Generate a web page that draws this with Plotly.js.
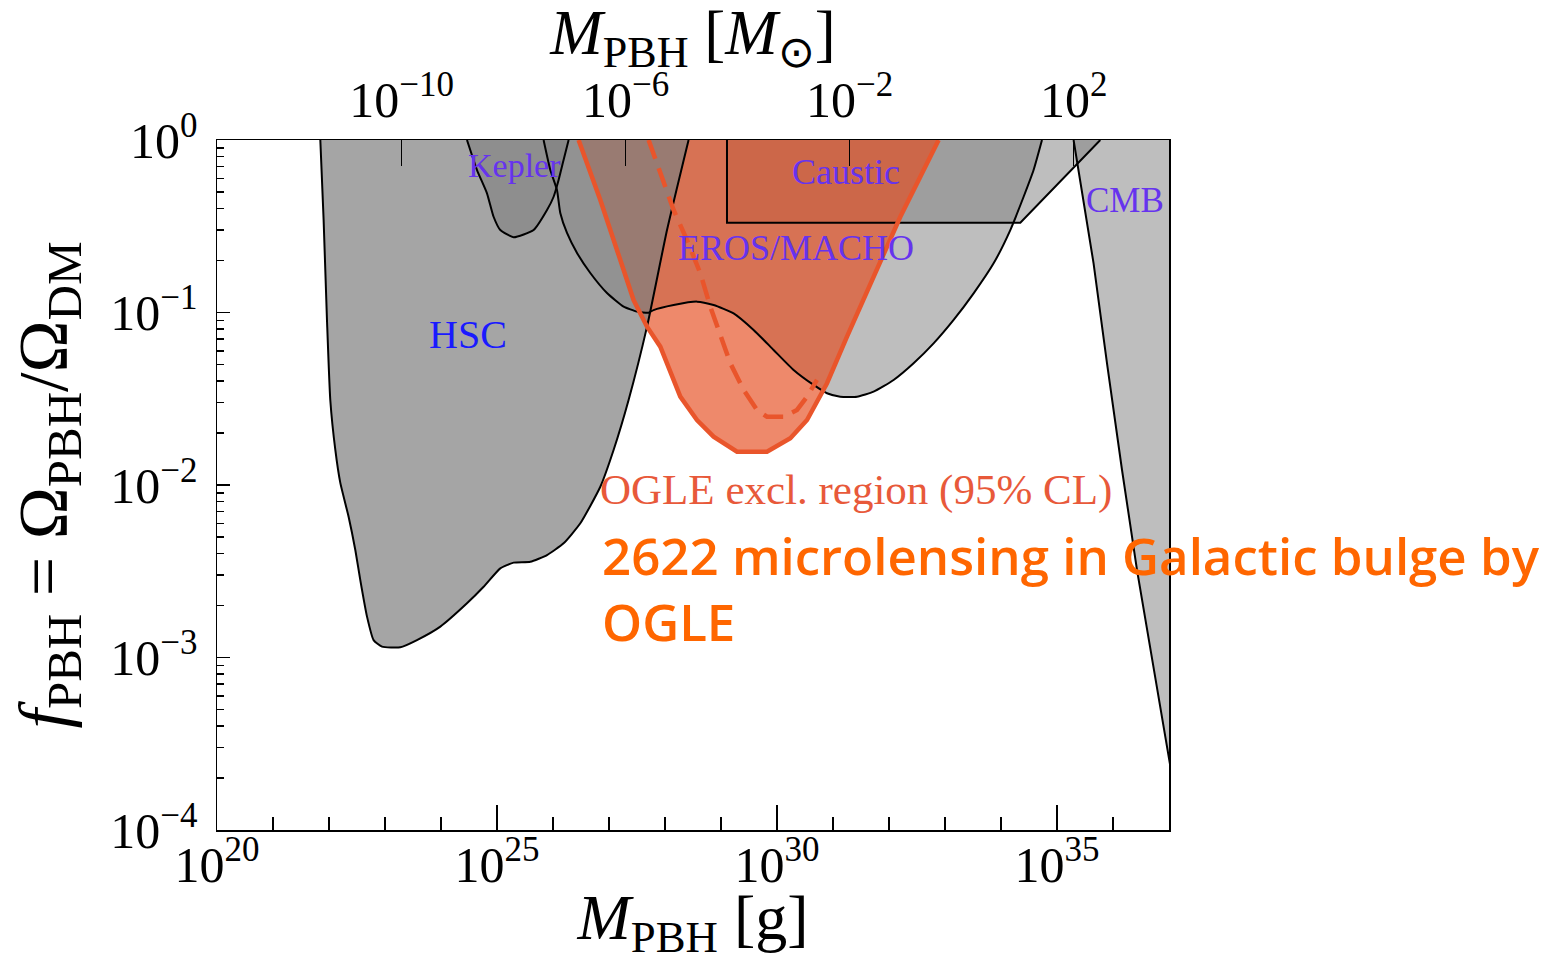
<!DOCTYPE html>
<html>
<head>
<meta charset="utf-8">
<script src="https://cdn.plot.ly/plotly-3.0.1.min.js"></script>
<style>html,body{margin:0;padding:0;background:#fff;}#chart{width:1557px;height:962px;}</style>
</head>
<body>
<div id="chart"></div>
<script>
// ---- Data (log10 of mass in g, log10 of f_PBH) ----
const hscLogM = [21.845,21.904,21.964,22.023,22.113,22.202,22.35,22.47,22.559,22.679,22.796,22.946,23.273,23.571,23.988,24.464,24.761,25.059,25.296,25.595,25.893,26.189,26.488,26.845,27.082,27.35,27.679,28.036,28.421];
const hscLogF = [0,-0.464,-1.043,-1.507,-1.797,-1.988,-2.184,-2.377,-2.551,-2.763,-2.899,-2.937,-2.941,-2.899,-2.821,-2.686,-2.59,-2.483,-2.45,-2.445,-2.406,-2.338,-2.222,-2.01,-1.797,-1.507,-1.082,-0.522,0];

const keplerLogM = [24.464,24.643,24.821,24.939,25.059,25.296,25.654,25.893,26.011,26.1,26.189,26.279];
const keplerLogF = [0,-0.174,-0.309,-0.445,-0.522,-0.564,-0.522,-0.406,-0.329,-0.232,-0.116,0];

const erosLogM = [25.832,25.952,26.071,26.13,26.25,26.429,26.666,26.964,27.261,27.5,27.707,27.796,28.154,28.571,28.868,29.225,29.582,29.939,30.296,30.654,30.893,31.13,31.429,31.725,32.082,32.439,32.796,33.154,33.511,33.868,34.166,34.404,34.582,34.732];
const erosLogF = [0,-0.174,-0.29,-0.423,-0.539,-0.655,-0.771,-0.887,-0.966,-0.995,-1.001,-0.986,-0.957,-0.937,-0.957,-1.005,-1.101,-1.217,-1.333,-1.42,-1.468,-1.488,-1.488,-1.459,-1.391,-1.294,-1.179,-1.043,-0.889,-0.715,-0.522,-0.329,-0.174,0];

const causticLogM = [29.107,29.107,34.345,35.773];
const causticLogF = [0,-0.479,-0.479,0];

const cmbLogM = [35.296,35.653,35.893,36.161,36.429,36.725,37.02,37.02];
const cmbLogF = [0,-0.715,-1.295,-1.913,-2.493,-3.072,-3.623,0];

const ogleLogM = [26.457,26.845,27.202,27.439,27.679,27.916,28.273,28.571,28.868,29.286,29.821,30.238,30.536,30.893,31.25,31.725,32.202,32.559,32.886];
const ogleLogF = [0,-0.348,-0.696,-0.928,-1.082,-1.198,-1.488,-1.623,-1.72,-1.807,-1.807,-1.729,-1.623,-1.41,-1.14,-0.792,-0.445,-0.213,0];

const ogleDashLogM = [27.707,27.916,28.154,28.393,28.631,28.809,28.988,29.166,29.404,29.643,29.821,30.118,30.357,30.536,30.714];
const ogleDashLogF = [0,-0.193,-0.406,-0.58,-0.773,-0.966,-1.14,-1.294,-1.449,-1.565,-1.604,-1.604,-1.565,-1.488,-1.391];

// ---- Axis ticks ----
const xTickExp = [20,25,30,35];
const xMinorExp = [21,22,23,24,26,27,28,29,31,32,33,34,36];
const topTickExp = [-10,-6,-2,2];
const yTickExp = [0,-1,-2,-3,-4];
const yMinorMant = [2,3,4,5,6,7,8,9];
const yMinorDecades = [-4,-3,-2,-1];
const MSUN_G = 1.989e33;

const p10 = a => a.map(v => Math.pow(10, v));
const sup = e => '10<sup>' + String(e).replace('-', '\u2212') + '</sup>';

const GRAY = '127,127,127';
const fillTrace = (mx, fy, color, smooth) => ({x:p10(mx), y:p10(fy), fill:'toself', fillcolor:color, mode:'lines',
  line:{width:0, color:'rgba(0,0,0,0)', shape: smooth ? 'spline' : 'linear', smoothing:0.5}});
const edgeTrace = (mx, fy, smooth) => ({x:p10(mx), y:p10(fy), mode:'lines',
  line:{color:'black', width:2, shape: smooth ? 'spline' : 'linear', smoothing:0.5}});

const traces = [
  fillTrace(erosLogM, erosLogF, 'rgba('+GRAY+',0.51)', true),
  fillTrace(causticLogM, causticLogF, 'rgba('+GRAY+',0.51)', false),
  fillTrace(ogleLogM, ogleLogF, 'rgba(229,74,27,0.65)', false),
  fillTrace(hscLogM, hscLogF, 'rgba('+GRAY+',0.70)', true),
  fillTrace(keplerLogM, keplerLogF, 'rgba('+GRAY+',0.60)', true),
  fillTrace(cmbLogM, cmbLogF, 'rgba('+GRAY+',0.51)', false),
  edgeTrace(erosLogM, erosLogF, true),
  edgeTrace(causticLogM, causticLogF, false),
  edgeTrace(hscLogM, hscLogF, true),
  edgeTrace(keplerLogM, keplerLogF, true),
  edgeTrace(cmbLogM, cmbLogF, false),
  {x:p10(ogleLogM), y:p10(ogleLogF), mode:'lines', line:{color:'#e9552b', width:4.5}},
  {x:p10(ogleDashLogM), y:p10(ogleDashLogF), mode:'lines', line:{color:'#e9552b', width:4.5, dash:'20px,10px'}},
  // invisible anchors for the decorative overlay axes
  {x:[1e25], y:[1e-2], xaxis:'x2', mode:'markers', marker:{opacity:0}},
  {x:[1e25], y:[1e-2], xaxis:'x3', mode:'markers', marker:{opacity:0}},
  {x:[1e25], y:[1e-2], yaxis:'y2', mode:'markers', marker:{opacity:0}}
];
traces.forEach(t => { t.showlegend = false; t.hoverinfo = 'skip'; });

const yMinorVals = [];
yMinorDecades.forEach(d => yMinorMant.forEach(m => yMinorVals.push(m * Math.pow(10, d))));

const SERIF = 'Liberation Serif, Times New Roman, serif';
const layout = {
  width:1557, height:962,
  margin:{l:217, r:388, t:140, b:132},
  paper_bgcolor:'white', plot_bgcolor:'white',
  showlegend:false,
  font:{family:SERIF, color:'black'},
  title:{text:'<i>M</i><sub>PBH</sub> [<i>M</i><sub>\u2299</sub>]', font:{size:63, family:SERIF, color:'black'},
    xref:'container', yref:'container', x:693/1557, xanchor:'center', y:0.99, yanchor:'top'},
  xaxis:{type:'log', range:[20,37], tickvals:p10(xTickExp), ticktext:xTickExp.map(sup),
    ticks:'inside', ticklen:25, tickwidth:1.5, tickcolor:'black',
    showline:true, linecolor:'black', linewidth:1.5, mirror:true,
    showgrid:false, zeroline:false, tickfont:{size:50, family:SERIF},
    ticklabelstandoff:-10,
    title:{text:'<i>M</i><sub>PBH</sub> [g]', font:{size:64, family:SERIF}, standoff:6}},
  xaxis2:{type:'log', overlaying:'x', side:'top', anchor:'y',
    range:[20 - Math.log10(MSUN_G), 37 - Math.log10(MSUN_G)],
    tickvals:p10(topTickExp), ticktext:topTickExp.map(sup),
    ticks:'inside', ticklen:26, tickwidth:1.5, tickcolor:'black',
    showline:false, showgrid:false, zeroline:false, tickfont:{size:50, family:SERIF},
    ticklabelstandoff:12},
  xaxis3:{type:'log', overlaying:'x', side:'bottom', anchor:'y', range:[20,37],
    tickvals:p10(xMinorExp), ticks:'inside', ticklen:13, tickwidth:1.5, tickcolor:'black',
    showticklabels:false, showline:false, showgrid:false, zeroline:false},
  yaxis:{type:'log', range:[-4,0], tickvals:p10(yTickExp), ticktext:yTickExp.map(sup),
    ticks:'inside', ticklen:13, tickwidth:1.5, tickcolor:'black',
    showline:true, linecolor:'black', linewidth:1.5, mirror:true,
    showgrid:false, zeroline:false, tickfont:{size:50, family:SERIF},
    ticklabelstandoff:8,
    title:{text:'<i>f</i><sub>PBH</sub> = \u03A9<sub>PBH</sub>/\u03A9<sub>DM</sub>', font:{size:70, family:SERIF}, standoff:20}},
  yaxis2:{type:'log', overlaying:'y', side:'left', anchor:'x', range:[-4,0],
    tickvals:yMinorVals, ticks:'inside', ticklen:7, tickwidth:1.5, tickcolor:'black',
    showticklabels:false, showline:false, showgrid:false, zeroline:false},
  annotations:[
    {x:25.309, y:-0.145, text:'Kepler', font:{size:34, color:'#6633ee', family:SERIF}},
    {x:24.488, y:-1.13, text:'HSC', font:{size:40, color:'#1a1aff', family:SERIF}},
    {x:31.24, y:-0.186, text:'Caustic', font:{size:36, color:'#6633ee', family:SERIF}},
    {x:30.345, y:-0.626, text:'EROS/MACHO', font:{size:36, color:'#6633ee', family:SERIF}},
    {x:36.22, y:-0.348, text:'CMB', font:{size:35, color:'#6633ee', family:SERIF}},
    {x:31.416, y:-2.029, text:'OGLE excl. region (95% CL)', font:{size:43, color:'#e8593a', family:SERIF}},
    {x:26.845, y:-2.19, xanchor:'left', yanchor:'top', align:'left',
      text:'2622 microlensing in Galactic bulge by<br>OGLE',
      font:{size:51, color:'#ff6600', family:'Comic Sans MS, Open Sans, sans-serif', weight:600}}
  ].map(a => Object.assign({xref:'x', yref:'y', showarrow:false, yanchor:'middle', xanchor:'center'}, a))
};

Plotly.newPlot('chart', traces, layout, {displayModeBar:false, staticPlot:true});
</script>
</body>
</html>
